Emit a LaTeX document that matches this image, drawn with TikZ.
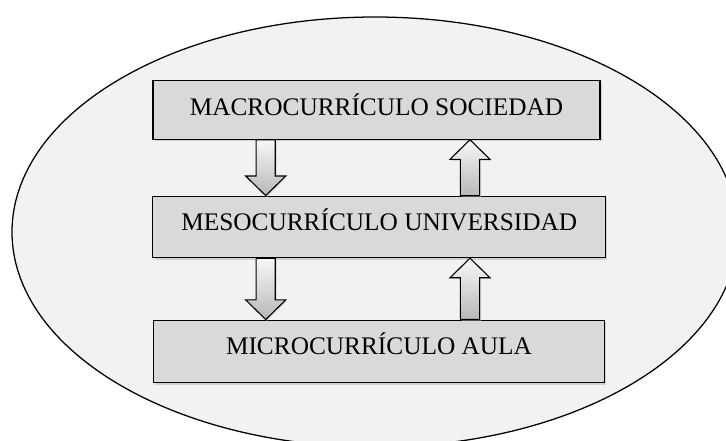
\documentclass[tikz,border=0pt]{standalone}
\usepackage{fontspec}
\setmainfont{Liberation Serif}
\usetikzlibrary{calc,shadows}
\def\blockarrow[#1](#2)(#3){\draw[#1] ($(#2)+(-0.24cm,0)$) -- ($(#3)!0.49cm!(#2)+(-0.24cm,0)$) -- ($(#3)!0.49cm!(#2)+(-0.5cm,0)$) -- (#3) -- ($(#3)!0.49cm!(#2)+(0.5cm,0)$) -- ($(#3)!0.49cm!(#2)+(0.24cm,0)$) -- ($(#2)+(0.24cm,0)$) -- cycle;}
\tikzset{
	nivel/.style={draw, line width=0.8pt, fill=black!15, inner xsep=0pt, inner ysep=0pt, text height=24.4pt, font=\fontsize{18}{20}\selectfont, drop shadow={fill=black!30, shadow xshift=1.2pt, shadow yshift=-1.5pt}},
	flecha/.style={line width=0.8pt, top color=black!3, bottom color=black!28, drop shadow={fill=black!25, shadow xshift=1pt, shadow yshift=-1pt}}
}

\begin{document}
\begin{tikzpicture}[x=0.025cm,y=-0.025cm]
			%%%%% START %%%%%
			\useasboundingbox (0,0) rectangle (726,441);
			\draw[line width=0.9pt, fill=black!5] (375,232) ellipse [x radius=363, y radius=215];
			
			\node[nivel, minimum width=11.175cm, text depth=17.1pt] (macro) at (376.5,110) {MACROCURRÍCULO SOCIEDAD};
			\node[nivel, minimum width=11.32cm, text depth=19.3pt] (meso) at (379.3,226.9) {MESOCURRÍCULO UNIVERSIDAD};
			\node[nivel, minimum width=11.285cm, text depth=20pt] (micro) at (379,351.3) {MICROCURRÍCULO AULA};
			
			\coordinate (izq) at (265.7,0);
			\coordinate (der) at (470,0);
			
			\blockarrow[flecha](macro.south -| izq)(meso.north -| izq);
			\blockarrow[flecha](meso.south -| izq)(micro.north -| izq);
			\blockarrow[flecha](meso.north -| der)(macro.south -| der);
			\blockarrow[flecha](micro.north -| der)(meso.south -| der);
			%%%%% END %%%%%
\end{tikzpicture}
\end{document}
